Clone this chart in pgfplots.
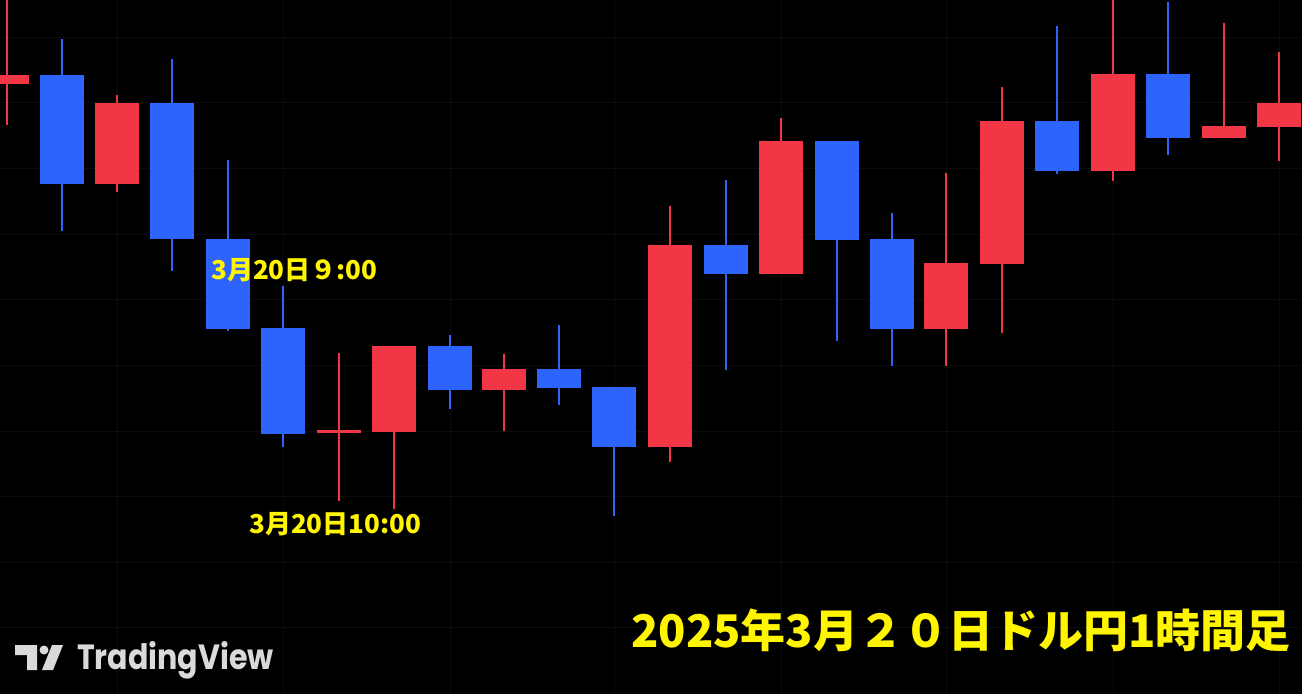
\documentclass[border=0pt]{standalone}
\usepackage{pgfplots}
\pgfplotsset{compat=1.18}
\usepackage{pgfplotstable}
\usepackage{fontspec}
\newfontfamily\cjk{Noto Sans CJK JP}
\newfontfamily\tvfont{Poppins}
\definecolor{tvred}{HTML}{F23645}
\definecolor{tvblue}{HTML}{2E64FE}
\definecolor{gridc}{HTML}{0C0C0C}
\definecolor{yel}{HTML}{FFF500}
\definecolor{tvgray}{HTML}{DADADA}

% x = position, o = open, c = close, h = high, l = low
\pgfplotstableread{
x o c h l
7 610 619 700 569
117 510 591 599 502
339 261 264 341 193
394 262 348 348 185
504 304 325 340 263
670 247 449 488 232
781 420 553 576 420
946 365 431 521 328
1002 430 573 607 361
1113 523 620 700 513
1224 556 568 671 556
1279 567 591 642 533
}\redc
\pgfplotstableread{
x o c h l
62 619 510 655 463
172 591 455 635 423
228 455 365 534 363
283 366 260 408 247
450 348 304 359 285
559 325 306 369 289
614 307 247 307 178
726 449 420 514 324
837 553 454 553 353
892 455 365 481 328
1057 573 523 668 520
1168 620 556 692 539
}\bluec

\begin{document}
\begin{tikzpicture}
\begin{axis}[
  scale only axis, width=1302pt, height=694pt,
  xmin=0, xmax=1302, ymin=0, ymax=694,
  axis background/.style={fill=black},
  axis line style={draw=none},
  xtick={117,283,450,614,781,946,1113,1279},
  ytick={66,131,197,262,328,394,459,525,591,656},
  xticklabels={}, yticklabels={},
  major tick length=0pt,
  grid=major, major grid style={draw=gridc, line width=1pt},
  clip=true,
]
% wicks
\addplot[draw=none, mark=none, error bars/.cd, y dir=plus, y explicit, error mark=none,
  error bar style={draw=tvred, line width=1.5pt}]
  table[x=x, y=l, y error plus expr=\thisrow{h}-\thisrow{l}] {\redc};
\addplot[draw=none, mark=none, error bars/.cd, y dir=plus, y explicit, error mark=none,
  error bar style={draw=tvblue, line width=1.5pt}]
  table[x=x, y=l, y error plus expr=\thisrow{h}-\thisrow{l}] {\bluec};
% bodies
\addplot[draw=none, mark=none, error bars/.cd, y dir=plus, y explicit, error mark=none,
  error bar style={draw=tvred, line width=44pt}]
  table[x=x, y=o, y error plus expr=\thisrow{c}-\thisrow{o}] {\redc};
\addplot[draw=none, mark=none, error bars/.cd, y dir=plus, y explicit, error mark=none,
  error bar style={draw=tvblue, line width=44pt}]
  table[x=x, y=c, y error plus expr=\thisrow{o}-\thisrow{c}] {\bluec};

\node[anchor=base west, inner sep=0pt, text=yel, font=\cjk\bfseries\fontsize{26}{26}\selectfont]
  at (axis cs:211,414) {3月20日９:00};
\node[anchor=base west, inner sep=0pt, text=yel, font=\cjk\bfseries\fontsize{26}{26}\selectfont]
  at (axis cs:249,160) {3月20日10:00};
\node[anchor=base west, inner sep=0pt, text=yel, font=\cjk\bfseries\fontsize{45}{45}\selectfont]
  at (axis cs:631,47) {2025年3月２０日ドル円1時間足};
% TradingView logo
\fill[tvgray] (axis cs:15,49) -- (axis cs:37,49) -- (axis cs:37,24) -- (axis cs:27,24)
  -- (axis cs:27,39) -- (axis cs:15,39) -- cycle;
\fill[tvgray] (axis cs:44,44) circle[radius=4.5pt];
\fill[tvgray] (axis cs:52,49) -- (axis cs:63,49) -- (axis cs:53,24) -- (axis cs:42,24) -- cycle;
\node[anchor=base west, inner sep=0pt, text=tvgray, xscale=0.86, font=\tvfont\bfseries\fontsize{35}{35}\selectfont]
  at (axis cs:77,24) {TradingView};
\end{axis}
\pgfresetboundingbox
\path[use as bounding box] (0,0) rectangle (1302pt,694pt);
\end{tikzpicture}
\end{document}
